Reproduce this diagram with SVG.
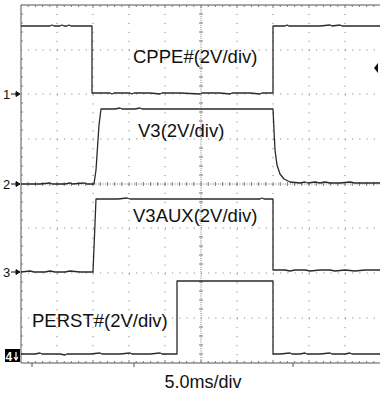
<svg xmlns="http://www.w3.org/2000/svg" width="380" height="398" viewBox="0 0 380 398">
<style>
.dot{stroke:#7a7a7a;stroke-width:1;fill:none}
.hdot{stroke-dasharray:1 6.2}
.vdot{stroke-dasharray:1 7.95}
.tick{stroke:#7a7a7a;stroke-width:1;fill:none}
.frame{stroke:#555;stroke-width:1;fill:none}
.trace{stroke:#2a2a2a;stroke-width:1.3;fill:none;stroke-linejoin:round}
.lbl{font-family:"Liberation Sans",Arial,sans-serif;font-size:18.5px;fill:#111}
.mk{font-family:"Liberation Sans",Arial,sans-serif;font-size:13px;fill:#111}
</style>
<rect width="380" height="398" fill="#fff"/>
<g id="grid">
  <g class="dot hdot">
    <line x1="21" y1="50" x2="381" y2="50"/>
    <line x1="21" y1="94" x2="381" y2="94"/>
    <line x1="21" y1="139" x2="381" y2="139"/>
    <line x1="21" y1="228" x2="381" y2="228"/>
    <line x1="21" y1="273" x2="381" y2="273"/>
    <line x1="21" y1="318" x2="381" y2="318"/>
  </g>
  <g class="dot vdot">
    <line x1="57" y1="5" x2="57" y2="363"/>
    <line x1="93" y1="5" x2="93" y2="363"/>
    <line x1="129" y1="5" x2="129" y2="363"/>
    <line x1="165" y1="5" x2="165" y2="363"/>
    <line x1="237" y1="5" x2="237" y2="363"/>
    <line x1="273" y1="5" x2="273" y2="363"/>
    <line x1="309" y1="5" x2="309" y2="363"/>
    <line x1="345" y1="5" x2="345" y2="363"/>
  </g>
  <line class="dot" x1="21" y1="184" x2="381" y2="184" stroke-dasharray="1 1.4"/>
  <line class="dot" x1="201" y1="5" x2="201" y2="363" stroke-dasharray="1 1.2"/>
  <path class="tick" d="M28.2,182v4M35.4,182v4M42.6,182v4M49.8,182v4M57,182v4M64.2,182v4M71.4,182v4M78.6,182v4M85.8,182v4M93,182v4M100.2,182v4M107.4,182v4M114.6,182v4M121.8,182v4M129,182v4M136.2,182v4M143.4,182v4M150.6,182v4M157.8,182v4M165,182v4M172.2,182v4M179.4,182v4M186.6,182v4M193.8,182v4M201,182v4M208.2,182v4M215.4,182v4M222.6,182v4M229.8,182v4M237,182v4M244.2,182v4M251.4,182v4M258.6,182v4M265.8,182v4M273,182v4M280.2,182v4M287.4,182v4M294.6,182v4M301.8,182v4M309,182v4M316.2,182v4M323.4,182v4M330.6,182v4M337.8,182v4M345,182v4M352.2,182v4M359.4,182v4M366.6,182v4M373.8,182v4"/>
  <path class="tick" d="M199,14h4M199,23h4M199,32h4M199,41h4M199,59h4M199,68h4M199,77h4M199,86h4M199,103h4M199,112h4M199,121h4M199,130h4M199,148h4M199,157h4M199,166h4M199,175h4M199,193h4M199,202h4M199,211h4M199,220h4M199,237h4M199,246h4M199,255h4M199,264h4M199,282h4M199,291h4M199,300h4M199,309h4M199,327h4M199,336h4M199,345h4M199,354h4"/>
</g>
<g id="frame">
  <path class="frame" d="M21,5H381M21,5V363M21,363H381"/>
  <path class="tick" d="M28.2,5v2M35.4,5v2M42.6,5v2M49.8,5v2M57,5v3M64.2,5v2M71.4,5v2M78.6,5v2M85.8,5v2M93,5v3M100.2,5v2M107.4,5v2M114.6,5v2M121.8,5v2M129,5v3M136.2,5v2M143.4,5v2M150.6,5v2M157.8,5v2M165,5v3M172.2,5v2M179.4,5v2M186.6,5v2M193.8,5v2M201,5v3M208.2,5v2M215.4,5v2M222.6,5v2M229.8,5v2M237,5v3M244.2,5v2M251.4,5v2M258.6,5v2M265.8,5v2M273,5v3M280.2,5v2M287.4,5v2M294.6,5v2M301.8,5v2M309,5v3M316.2,5v2M323.4,5v2M330.6,5v2M337.8,5v2M345,5v3M352.2,5v2M359.4,5v2M366.6,5v2M373.8,5v2"/>
  <path class="tick" d="M28.2,363v-2M35.4,363v-2M42.6,363v-2M49.8,363v-2M57,363v-3M64.2,363v-2M71.4,363v-2M78.6,363v-2M85.8,363v-2M93,363v-3M100.2,363v-2M107.4,363v-2M114.6,363v-2M121.8,363v-2M129,363v-3M136.2,363v-2M143.4,363v-2M150.6,363v-2M157.8,363v-2M165,363v-3M172.2,363v-2M179.4,363v-2M186.6,363v-2M193.8,363v-2M201,363v-3M208.2,363v-2M215.4,363v-2M222.6,363v-2M229.8,363v-2M237,363v-3M244.2,363v-2M251.4,363v-2M258.6,363v-2M265.8,363v-2M273,363v-3M280.2,363v-2M287.4,363v-2M294.6,363v-2M301.8,363v-2M309,363v-3M316.2,363v-2M323.4,363v-2M330.6,363v-2M337.8,363v-2M345,363v-3M352.2,363v-2M359.4,363v-2M366.6,363v-2M373.8,363v-2"/>
  <path class="tick" d="M21,14h2M21,23h2M21,32h2M21,41h2M21,59h2M21,68h2M21,77h2M21,86h2M21,103h2M21,112h2M21,121h2M21,130h2M21,148h2M21,157h2M21,166h2M21,175h2M21,193h2M21,202h2M21,211h2M21,220h2M21,237h2M21,246h2M21,255h2M21,264h2M21,282h2M21,291h2M21,300h2M21,309h2M21,327h2M21,336h2M21,345h2M21,354h2"/>
  <path class="frame" d="M32,363v4M134,363v4M293,363v4"/>
</g>
<g id="traces">
  <polyline id="cppe" class="trace" points="21,26 50,26 52,25 54,26 60,26 62,25 64,26 67,26 69,25 71,26 82,26 92,26 92,93 110,93 112,94 114,93 130,93 132,94 134,93 150,93 160,94 162,93 180,93 200,94 202,93 220,93 230,94 232,93 250,93 260,94 262,93 273,93 273,26 285,26 287,25 289,26 305,26 320,26 330,25 332,26 340,25 342,26 355,26 370,26 380,26"/>
  <polyline id="v3" class="trace" points="21,184 40,184 50,183 52,184 65,184 70,183 72,184 84,183 87,184 94,184 96,170 99,125 101,109 115,109 120,108 122,109 135,109 140,108 142,109 160,109 180,109 200,109 220,109 240,109 273,109 274,130 275,150 277,165 280,174 284,179 290,182 300,183 305,182 308,183 315,182 320,183 325,182 330,183 340,183 350,182 355,183 360,183 370,183 380,183"/>
  <polyline id="v3aux" class="trace" points="21,272 30,271 34,272 45,272 50,271 55,272 65,272 70,271 80,272 93,272 96,199 118,199 127,198 130,199 150,199 170,199 190,199 210,199 230,199 260,199 262,198 264,199 273,199 273,270 285,270 290,271 295,270 305,270 310,271 320,270 330,270 335,271 345,270 355,271 365,270 380,270"/>
  <polyline id="perst" class="trace" points="21,354 35,354 40,353 42,354 60,354 65,355 67,354 90,354 100,353 102,354 120,354 130,353 132,354 150,354 160,353 162,354 177,354 177,281 200,281 210,281 220,281 240,281 273,281 273,354 280,354 290,353 292,354 300,354 305,353 307,354 320,354 330,353 332,354 345,354 350,353 352,354 365,354 380,354"/>
</g>
<g id="labels">
  <text class="lbl" x="133" y="63">CPPE#(2V/div)</text>
  <text class="lbl" x="138" y="137">V3(2V/div)</text>
  <text class="lbl" x="133" y="222">V3AUX(2V/div)</text>
  <text class="lbl" x="32" y="327">PERST#(2V/div)</text>
  <text class="lbl" x="203" y="388" text-anchor="middle" style="font-size:18px">5.0ms/div</text>
</g>
<g id="markers">
  <text class="mk" x="3" y="99">1</text>
  <path d="M11,94H19M16,91.5L20,94L16,96.5Z" stroke="#111" stroke-width="1" fill="#111"/>
  <text class="mk" x="3" y="189">2</text>
  <path d="M11,184H19M16,181.5L20,184L16,186.5Z" stroke="#111" stroke-width="1" fill="#111"/>
  <text class="mk" x="3" y="277">3</text>
  <path d="M11,272H19M16,269.5L20,272L16,274.5Z" stroke="#111" stroke-width="1" fill="#111"/>
  <rect x="5" y="349" width="15" height="13" fill="#000"/>
  <text x="5.5" y="360.5" style="font-family:'Liberation Sans',Arial,sans-serif;font-size:12px;font-weight:bold;fill:#fff">4</text>
  <path d="M16,352V359M14,357L16,360L18,357" stroke="#fff" stroke-width="1.2" fill="none"/>
  <polygon points="374,68 378,63 378,73" fill="#111"/>
</g>
</svg>
